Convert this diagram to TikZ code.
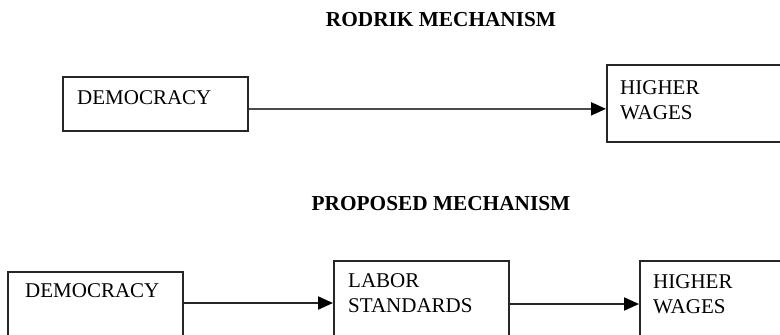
\documentclass[tikz,border=0pt]{standalone}
\usepackage{fontspec}
\setmainfont{Liberation Serif}
\usetikzlibrary{arrows.meta}
\begin{document}
\begin{tikzpicture}[x=1pt,y=-1pt,
  box/.style={draw=black!85,line width=1.7pt,rectangle,inner sep=0pt,anchor=north west},
  lbl/.style={inner sep=0pt,anchor=north west,align=left,font=\fontsize{21}{25}\selectfont},
  ttl/.style={inner sep=0pt,anchor=north,font=\fontsize{21.3}{25}\selectfont\bfseries},
  arr/.style={line width=2pt,-{Triangle[length=15pt,width=13pt,color=black]}}]
\useasboundingbox (0,0) rectangle (780,335);
\clip (0,0) rectangle (780,335);
\fill[white] (0,0) rectangle (780,335);
% titles
\node[ttl] (t1) at (441,12) {RODRIK MECHANISM};
\node[ttl] (t2) at (441,196) {PROPOSED MECHANISM};
% top row
\node[box,minimum width=185pt,minimum height=54pt] (d1) at (62,76) {};
\node[lbl] (d1t) at (77,90) {DEMOCRACY};
\node[box,minimum width=174pt,minimum height=77pt] (w1) at (606,64) {};
\node[lbl] (w1t) at (620,80) {HIGHER\\WAGES};
\draw[arr,draw=black!70] ([yshift=-5pt]d1.east) -- ([yshift=-5pt]d1.east -| w1.west);
% bottom row
\node[box,minimum width=175pt,minimum height=100pt] (d2) at (7,271) {};
\node[lbl] (d2t) at (25,283) {DEMOCRACY};
\node[box,minimum width=175pt,minimum height=100pt] (l2) at (333,260) {};
\node[lbl] (l2t) at (348,273) {LABOR\\STANDARDS};
\node[box,minimum width=175pt,minimum height=100pt] (w2) at (639,260) {};
\node[lbl] (w2t) at (653,274) {HIGHER\\WAGES};
\draw[arr,draw=black!85] ([yshift=-32pt]d2.north east) -- ([yshift=-32pt]d2.north east -| l2.west);
\draw[arr,draw=black!85] ([yshift=-44pt]l2.north east) -- ([yshift=-44pt]l2.north east -| w2.west);
\end{tikzpicture}
\end{document}
